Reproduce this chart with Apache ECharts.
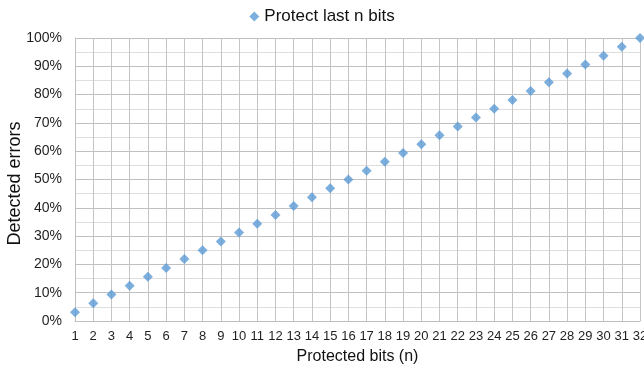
<!DOCTYPE html>
<html>
<head>
<meta charset="utf-8">
<script src="https://cdn.jsdelivr.net/npm/echarts@6/dist/echarts.min.js"></script>
<style>
html,body{margin:0;padding:0;background:#fff;}
#chart{width:644px;height:368px;}
</style>
</head>
<body>
<div id="chart"></div>
<script>
var bits = [1,2,3,4,5,6,7,8,9,10,11,12,13,14,15,16,17,18,19,20,21,22,23,24,25,26,27,28,29,30,31,32];
var detected = [3.125,6.25,9.375,12.5,15.625,18.75,21.875,25,28.125,31.25,34.375,37.5,40.625,43.75,46.875,50,53.125,56.25,59.375,62.5,65.625,68.75,71.875,75,78.125,81.25,84.375,87.5,90.625,93.75,96.875,100];
var seriesName = 'Protect last n bits';
var xName = 'Protected bits (n)';
var yName = 'Detected errors';

var font = 'Liberation Sans, Arial, sans-serif';
var chart = echarts.init(document.getElementById('chart'), null, {renderer:'canvas'});
chart.setOption({
  animation: false,
  backgroundColor: '#ffffff',
  legend: {
    top: 3, left: 'center',
    itemWidth: 10, itemHeight: 10, itemGap: 6,
    textStyle: {fontFamily: font, fontSize: 17, color: '#111111'},
    data: [{name: seriesName, icon: 'diamond'}]
  },
  grid: {left: 75, right: 4, top: 38, bottom: 47, containLabel: false, outerBoundsMode: 'none'},
  xAxis: {
    type: 'value', min: 1, max: 32, interval: 1,
    name: xName, nameLocation: 'middle', nameGap: 28, nameMoveOverlap: false,
    nameTextStyle: {fontFamily: font, fontSize: 16, color: '#111111'},
    axisLine: {show: true, lineStyle: {color: '#bfbfbf', width: 1}},
    axisTick: {show: false},
    axisLabel: {fontFamily: font, fontSize: 13, color: '#1f1f1f', margin: 9},
    splitLine: {show: true, lineStyle: {color: '#c4c4c4', width: 1}}
  },
  yAxis: {
    type: 'value', min: 0, max: 100, interval: 10,
    name: yName, nameLocation: 'middle', nameGap: 51, nameRotate: 90, nameMoveOverlap: false,
    nameTextStyle: {fontFamily: font, fontSize: 18, color: '#111111', padding: [0, 8, 0, 0]},
    axisLine: {show: true, lineStyle: {color: '#bfbfbf'}},
    axisTick: {show: false},
    axisLabel: {fontFamily: font, fontSize: 14, color: '#1f1f1f', margin: 13, formatter: '{value}%'},
    splitLine: {show: true, lineStyle: {color: '#c0c0c0', width: 1}},
    minorTick: {show: false, splitNumber: 2},
    minorSplitLine: {show: true, lineStyle: {color: '#dedede', width: 1}}
  },
  series: [{
    name: seriesName,
    type: 'scatter',
    symbol: 'diamond',
    symbolSize: 10,
    itemStyle: {color: '#5b9bd5'},
    data: bits.map(function(b, i){ return [b, detected[i]]; })
  }]
});
</script>
</body>
</html>
